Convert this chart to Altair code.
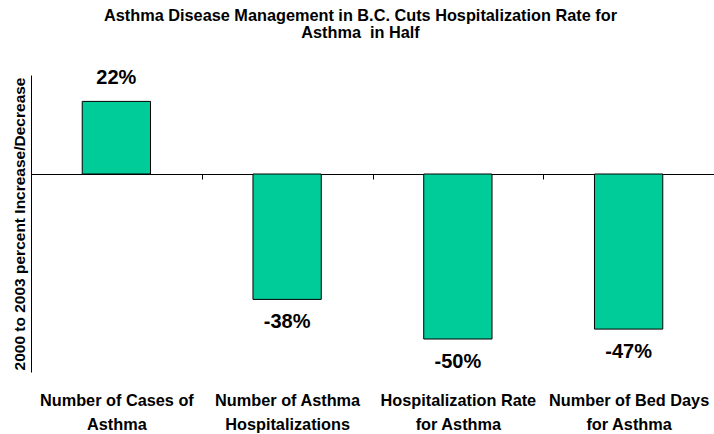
import altair as alt
import pandas as pd

categories = [
    "Number of Cases of|Asthma",
    "Number of Asthma|Hospitalizations",
    "Hospitalization Rate|for Asthma",
    "Number of Bed Days|for Asthma",
]
values = [22, -38, -50, -47]

title_lines = [
    "Asthma Disease Management in B.C. Cuts Hospitalization Rate for",
    "Asthma \u00a0in Half",
]
y_title = "2000 to 2003 percent Increase/Decrease"

df = pd.DataFrame({"category": categories, "value": values})

FONT = "Liberation Sans"

x_scale = alt.Scale(paddingInner=0, paddingOuter=0)
y_scale = alt.Scale(domain=[-60, 30], nice=False, zero=True)

base = alt.Chart(df)

bars = base.mark_bar(
    color="#00CC99", stroke="#000000", strokeWidth=1, width=alt.RelativeBandSize(0.4)
).encode(
    x=alt.X(
        "category:N",
        sort=categories,
        scale=x_scale,
        axis=alt.Axis(
            orient="bottom",
            title=None,
            offset=-198,
            domain=True,
            domainColor="#000000",
            domainWidth=1,
            ticks=True,
            tickColor="#000000",
            tickSize=5,
            tickBand="extent",
            labelAngle=0,
            labelExpr="split(datum.label, '|')",
            labelFont=FONT,
            labelFontSize=16.3,
            labelFontWeight="bold",
            labelColor="#000000",
            labelLineHeight=24,
            labelPadding=213,
            labelLimit=0,
        ),
    ),
    y=alt.Y(
        "value:Q",
        scale=y_scale,
        axis=alt.Axis(
            title=y_title,
            labels=False,
            ticks=False,
            grid=False,
            domain=True,
            domainColor="#000000",
            domainWidth=1,
            titleFont=FONT,
            titleFontSize=15.5,
            titleFontWeight="bold",
            titleColor="#000000",
            titlePadding=4,
        ),
    ),
)

pos_labels = base.transform_filter("datum.value >= 0").transform_calculate(
    label="datum.value + '%'"
).mark_text(
    font=FONT, fontSize=20, fontWeight="bold", color="#000000", dy=-23, baseline="middle"
).encode(
    x=alt.X("category:N", sort=categories, scale=x_scale),
    y=alt.Y("value:Q", scale=y_scale),
    text="label:N",
)

neg_labels = base.transform_filter("datum.value < 0").transform_calculate(
    label="datum.value + '%'"
).mark_text(
    font=FONT, fontSize=20, fontWeight="bold", color="#000000", dy=23, baseline="middle"
).encode(
    x=alt.X("category:N", sort=categories, scale=x_scale),
    y=alt.Y("value:Q", scale=y_scale),
    text="label:N",
)

chart = (
    alt.layer(bars, pos_labels, neg_labels)
    .properties(
        width=683,
        height=297,
        background="white",
        autosize=alt.AutoSizeParams(type="none"),
        padding={"left": 31, "top": 75, "right": 0, "bottom": 62},
        title=alt.TitleParams(
            text=title_lines,
            font=FONT,
            fontSize=16.3,
            fontWeight="bold",
            color="#000000",
            anchor="middle",
            lineHeight=17,
            offset=27,
            dx=-12,
        ),
    )
    .configure_view(stroke=None)
)

chart.save("out.html", embed_options={"renderer": "svg", "actions": False})
